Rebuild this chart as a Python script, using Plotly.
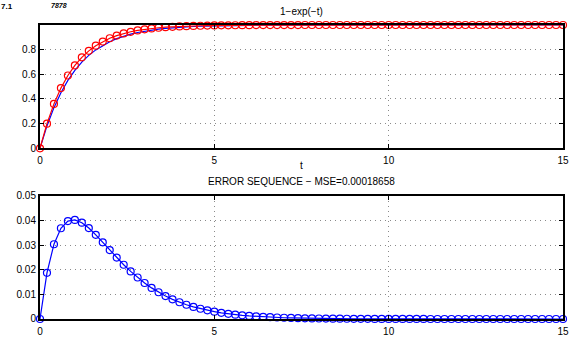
import plotly.graph_objects as go

# ---- data ----
t = [0.0, 0.2, 0.4, 0.6, 0.8, 1.0, 1.2, 1.4, 1.6, 1.8,
     2.0, 2.2, 2.4, 2.6, 2.8, 3.0, 3.2, 3.4, 3.6, 3.8,
     4.0, 4.2, 4.4, 4.6, 4.8, 5.0, 5.2, 5.4, 5.6, 5.8,
     6.0, 6.2, 6.4, 6.6, 6.8, 7.0, 7.2, 7.4, 7.6, 7.8,
     8.0, 8.2, 8.4, 8.6, 8.8, 9.0, 9.2, 9.4, 9.6, 9.8,
     10.0, 10.2, 10.4, 10.6, 10.8, 11.0, 11.2, 11.4, 11.6, 11.8,
     12.0, 12.2, 12.4, 12.6, 12.8, 13.0, 13.2, 13.4, 13.6, 13.8,
     14.0, 14.2, 14.4, 14.6, 14.8, 15.0]

exact = [0.0, 0.1813, 0.3297, 0.4512, 0.5507, 0.6321, 0.6988, 0.7534, 0.7981, 0.8347,
         0.8647, 0.8892, 0.9093, 0.9257, 0.9392, 0.9502, 0.9592, 0.9666, 0.9727, 0.9776,
         0.9817, 0.9850, 0.9877, 0.9899, 0.9918, 0.9933, 0.9945, 0.9955, 0.9963, 0.9970,
         0.9975, 0.9980, 0.9983, 0.9986, 0.9989, 0.9991, 0.9993, 0.9994, 0.9995, 0.9996,
         0.9997, 0.9997, 0.9998, 0.9998, 0.9998, 0.9999, 0.9999, 0.9999, 0.9999, 0.9999,
         1.0, 1.0, 1.0, 1.0, 1.0, 1.0, 1.0, 1.0, 1.0, 1.0,
         1.0, 1.0, 1.0, 1.0, 1.0, 1.0, 1.0, 1.0, 1.0, 1.0,
         1.0, 1.0, 1.0, 1.0, 1.0, 1.0]

approx = [0.0, 0.2, 0.36, 0.488, 0.5904, 0.6723, 0.7379, 0.7903, 0.8322, 0.8658,
          0.8926, 0.9141, 0.9313, 0.9450, 0.9560, 0.9648, 0.9719, 0.9775, 0.9820, 0.9856,
          0.9885, 0.9908, 0.9926, 0.9941, 0.9953, 0.9962, 0.9970, 0.9976, 0.9981, 0.9985,
          0.9988, 0.9990, 0.9992, 0.9994, 0.9995, 0.9996, 0.9997, 0.9997, 0.9998, 0.9998,
          0.9999, 0.9999, 0.9999, 0.9999, 1.0, 1.0, 1.0, 1.0, 1.0, 1.0,
          1.0, 1.0, 1.0, 1.0, 1.0, 1.0, 1.0, 1.0, 1.0, 1.0,
          1.0, 1.0, 1.0, 1.0, 1.0, 1.0, 1.0, 1.0, 1.0, 1.0,
          1.0, 1.0, 1.0, 1.0, 1.0, 1.0]

error = [0.0, 0.018731, 0.030320, 0.036812, 0.039729, 0.040199, 0.039050, 0.036882, 0.034125, 0.031081,
         0.027961, 0.024904, 0.021999, 0.019298, 0.016830, 0.014603, 0.012615, 0.010855, 0.009310, 0.007959,
         0.006787, 0.005773, 0.004898, 0.004149, 0.003508, 0.002960, 0.002495, 0.002099, 0.001764, 0.001481,
         0.001241, 0.001039, 0.000870, 0.000726, 0.000607, 0.000506, 0.000422, 0.000351, 0.000292, 0.000244,
         0.000202, 0.000169, 0.000140, 0.000116, 0.000097, 0.000079, 0.000066, 0.000055, 0.000046, 0.000037,
         0.000031, 0.000026, 0.000021, 0.000018, 0.000015, 0.000012, 0.000010, 0.000008, 0.000007, 0.000006,
         0.000005, 0.000004, 0.000003, 0.000003, 0.000002, 0.000002, 0.000001, 0.000001, 0.000001, 0.000001,
         0.000001, 0.000001, 0.0, 0.0, 0.0, 0.0]

x_ticks = [0, 5, 10, 15]
x_ticklabels = ["0", "5", "10", "15"]
top_yticks = [0, 0.2, 0.4, 0.6, 0.8]
top_yticklabels = ["0", "0.2", "0.4", "0.6", "0.8"]
bot_yticks = [0, 0.01, 0.02, 0.03, 0.04, 0.05]
bot_yticklabels = ["0", "0.01", "0.02", "0.03", "0.04", "0.05"]

top_title = "1\u2212exp(\u2212t)"
bot_title = "ERROR SEQUENCE \u2212 MSE=0.00018658"
corner_a = "7.1"
corner_b = "7878"

FONT = "Liberation Sans, Arial, Helvetica, sans-serif"

fig = go.Figure()
fig.add_trace(go.Scatter(x=t, y=exact, mode="lines", line=dict(color="#0000ff", width=1.2),
                         xaxis="x", yaxis="y", cliponaxis=False, showlegend=False))
fig.add_trace(go.Scatter(x=t, y=approx, mode="lines+markers", line=dict(color="#ff0000", width=1.2),
                         marker=dict(symbol="circle-open", size=7, color="#ff0000", line=dict(width=1.2)),
                         xaxis="x", yaxis="y", cliponaxis=False, showlegend=False))
fig.add_trace(go.Scatter(x=t, y=error, mode="lines+markers", line=dict(color="#0000ff", width=1.2),
                         marker=dict(symbol="circle-open", size=7, color="#0000ff", line=dict(width=1.2)),
                         xaxis="x2", yaxis="y2", cliponaxis=False, showlegend=False))

axis_common = dict(showline=True, linecolor="black", linewidth=2, mirror="ticks",
                   ticks="inside", ticklen=4, tickwidth=1, tickcolor="black",
                   showgrid=True, gridcolor="#8a8a8a", gridwidth=1, griddash="1px,4px",
                   zeroline=False, tickfont=dict(family=FONT, size=10, color="black"))

top_dom = [(335 - 155) / 310, 1.0]
bot_dom = [0.0, 130 / 310]

fig.update_layout(
    width=581, height=349,
    margin=dict(l=40, r=12, t=25, b=14),
    paper_bgcolor="white", plot_bgcolor="white",
    xaxis=dict(domain=[0, 1], range=[0, 15], anchor="y", tickvals=x_ticks, ticktext=x_ticklabels,
               ticklabelstandoff=2, **axis_common),
    yaxis=dict(domain=top_dom, range=[0, 1], anchor="x", tickvals=top_yticks, ticktext=top_yticklabels, **axis_common),
    xaxis2=dict(domain=[0, 1], range=[0, 15], anchor="y2", tickvals=x_ticks, ticktext=x_ticklabels,
                ticklabelstandoff=2, **axis_common),
    yaxis2=dict(domain=bot_dom, range=[0, 0.05], anchor="x2", tickvals=bot_yticks, ticktext=bot_yticklabels, **axis_common),
)

ann_font = dict(family=FONT, size=10, color="black")
fig.add_annotation(text=top_title, xref="paper", yref="paper", x=0.5, y=1 + 14 / 310,
                   xanchor="center", yanchor="middle", showarrow=False, font=ann_font)
fig.add_annotation(text="t", xref="paper", yref="paper", x=0.5, y=(335 - 173) / 310,
                   xanchor="center", yanchor="middle", showarrow=False, font=ann_font)
fig.add_annotation(text=bot_title, xref="paper", yref="paper", x=0.5, y=(335 - 190) / 310,
                   xanchor="center", yanchor="middle", showarrow=False, font=ann_font)
# small heading fragments at the very top-left
fig.add_annotation(text="<b>" + corner_a + "</b>", xref="paper", yref="paper", x=-40 / 529, y=1 + 25 / 310,
                   xanchor="left", yanchor="top", showarrow=False, borderpad=0,
                   font=dict(family=FONT, size=8, color="black"))
fig.add_annotation(text="<b><i>" + corner_b + "</i></b>", xref="paper", yref="paper", x=10 / 529, y=1 + 25 / 310,
                   xanchor="left", yanchor="top", showarrow=False, borderpad=0,
                   font=dict(family=FONT, size=7, color="black"))

fig.write_html("out.html", config={"displayModeBar": False},
               post_script="document.body.style.margin='0';")
